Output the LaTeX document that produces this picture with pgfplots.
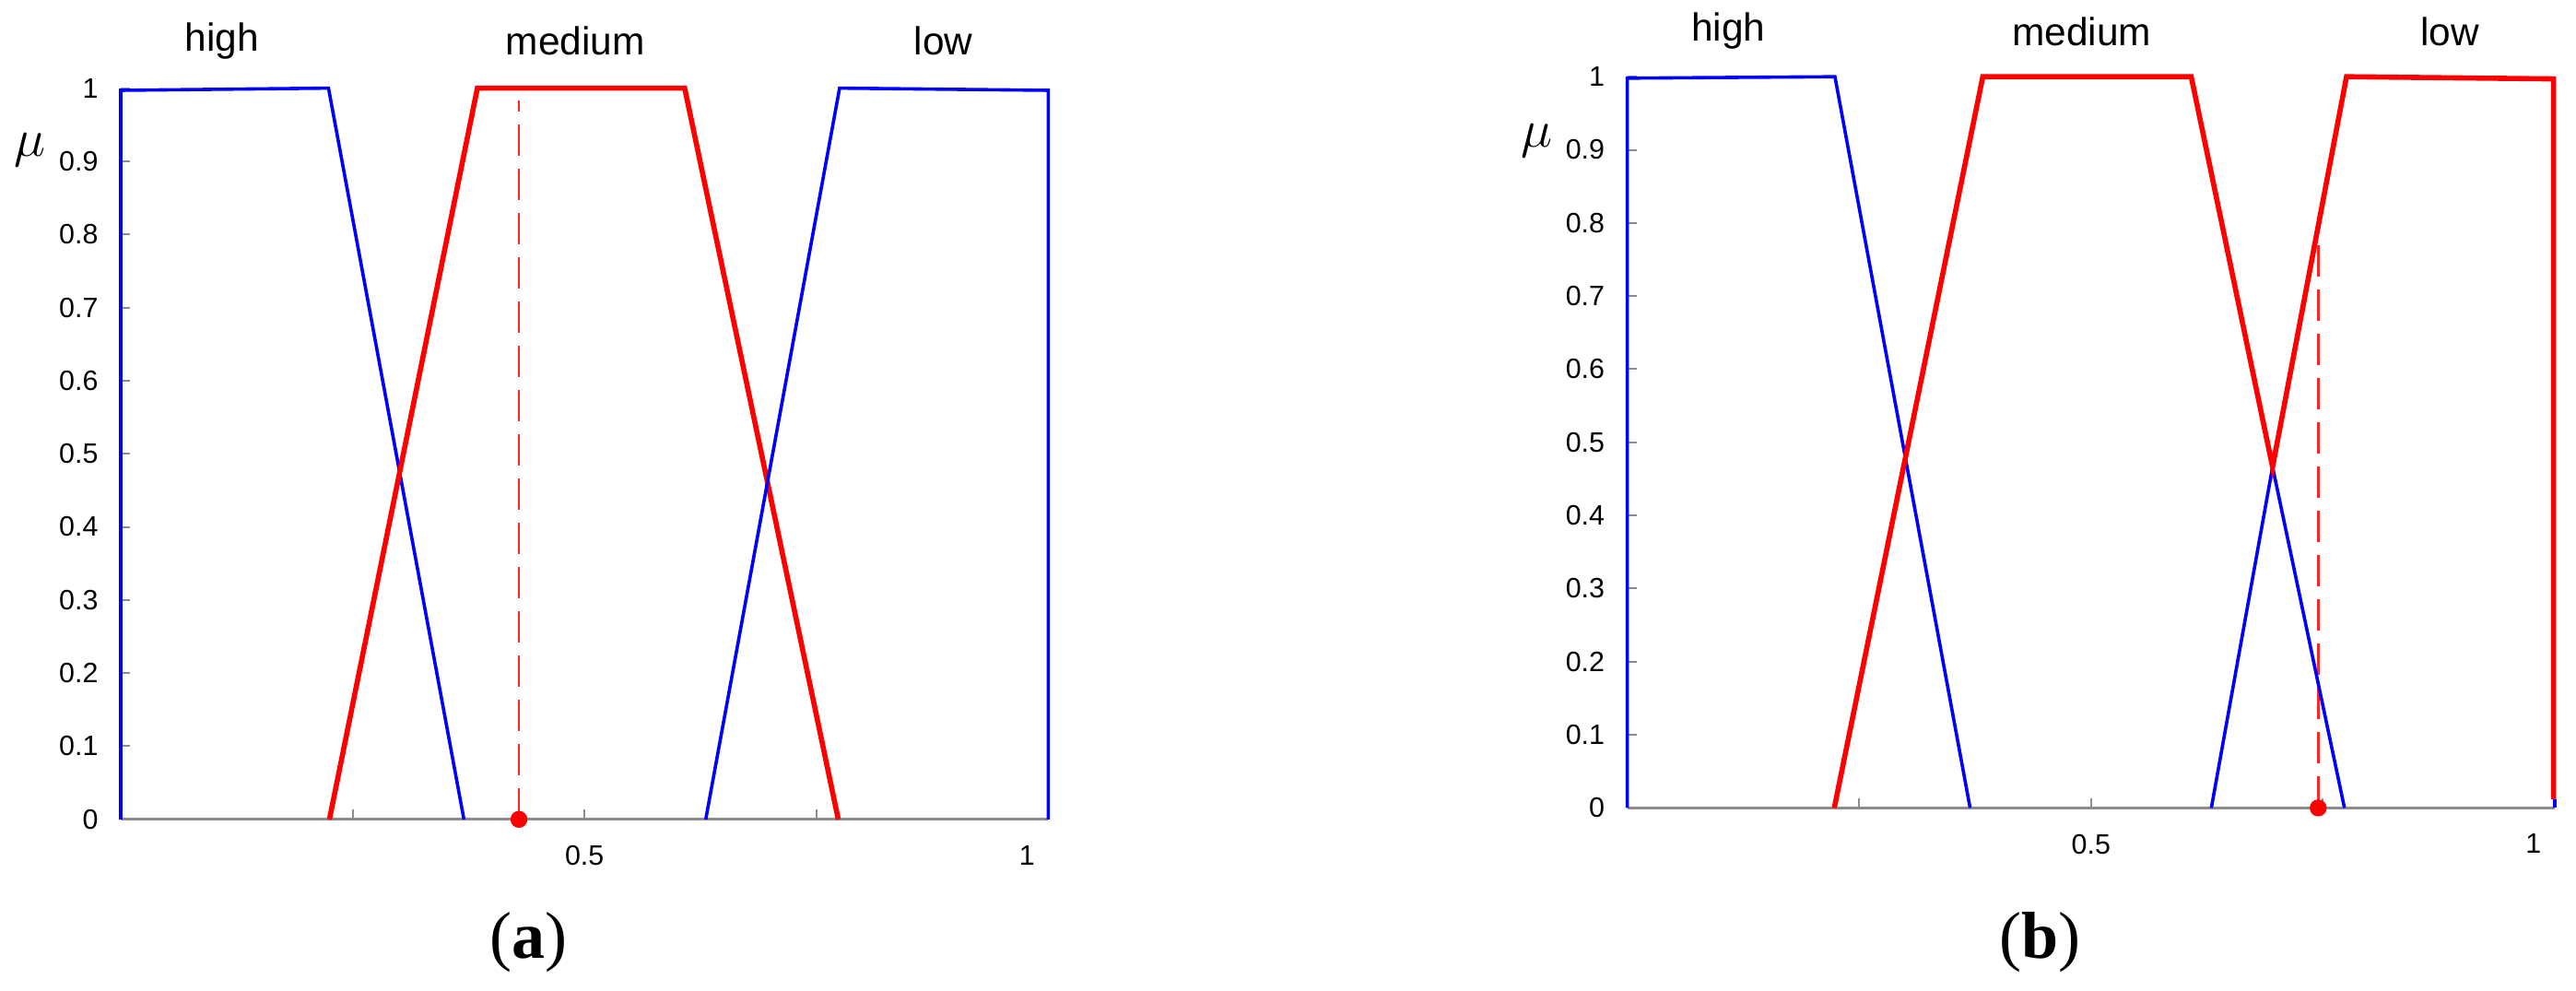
\documentclass[border=0pt]{standalone}
\usepackage{pgfplots}
\pgfplotsset{compat=1.18}
\usepackage{fontspec}
\setmainfont{Liberation Sans}
\newfontfamily\capfont{Liberation Serif}
\definecolor{mfblue}{RGB}{0,0,255}
\definecolor{mfred}{RGB}{255,0,0}
\definecolor{axgray}{RGB}{140,140,140}
\pgfplotsset{
  mf/.style={
    scale only axis, width=251.6pt, height=198.3pt,
    xmin=0, xmax=1, ymin=0, ymax=1,
    clip=false,
    axis x line=bottom, axis y line=left,
    axis line style={-, draw=axgray, line width=0.8pt},
    tick align=inside, major tick length=2.6pt,
    tick style={draw=axgray, line width=0.5pt},
    xtick={0.25,0.5,0.75}, xticklabels={,0.5,},
    extra x ticks={0.977}, extra x tick labels={1},
    extra x tick style={major tick length=0pt},
    ytick={0,0.1,0.2,0.3,0.4,0.5,0.6,0.7,0.8,0.9,1},
    yticklabels={0,0.1,0.2,0.3,0.4,0.5,0.6,0.7,0.8,0.9,1},
    /pgf/number format/assume math mode=true,
    tick label style={font=\fontsize{7.6}{9}\selectfont, text=black},
    yticklabel style={xshift=-2.6pt},
    xticklabel style={yshift=-3.6pt},
  },
  bl/.style={draw=mfblue, line width=0.9pt, mark=none, line join=miter},
  rl/.style={draw=mfred, line width=1.4pt, mark=none, line join=miter},
  dl/.style={draw=mfred!85!white, line width=0.7pt, dash pattern=on 8.5pt off 3.5pt, mark=none},
  dot/.style={only marks, mark=*, mark size=2.1pt, color=mfred},
}
\newcommand{\wfont}{\fontsize{10.6}{12}\selectfont}
\begin{document}
\begin{tikzpicture}
\useasboundingbox (0,0) rectangle (698.75pt,268.5pt);
% ---------------- (a)
\begin{axis}[mf, at={(32.75pt,46.3pt)}, anchor=south west]
\addplot[dl] coordinates {(0.4293,0) (0.4293,0.983)};
\addplot[bl] coordinates {(0,0) (0,0.997) (0.224,1) (0.370,0)};
\addplot[rl] coordinates {(0.225,0) (0.3845,1) (0.608,1) (0.7736,0)};
\addplot[bl] coordinates {(0.6307,0) (0.775,1) (1.0,0.997) (1.0,0)};
\addplot[dot] coordinates {(0.4293,0)};
\node[font=\wfont] at (axis cs:0.109,1.064) {high};
\node[font=\wfont] at (axis cs:0.490,1.064) {medium};
\node[font=\wfont] at (axis cs:0.887,1.064) {low};
\node[font=\fontsize{15}{17}\selectfont] at (axis cs:-0.098,0.915) {$\mu$};
\node[font=\capfont\fontsize{18}{20}\selectfont] at (axis cs:0.44,-0.168) {(\textbf{a})};
\end{axis}
% ---------------- (b)
\begin{axis}[mf, at={(441.4pt,49.4pt)}, anchor=south west]
\addplot[dl] coordinates {(0.7449,0) (0.7449,0.788)};
\addplot[bl] coordinates {(0,0) (0,0.998) (0.2239,1) (0.3696,0)};
\addplot[bl] coordinates {(0.6297,0) (0.6957,0.4663) (0.7732,0)};
\addplot[bl] coordinates {(1.0,0) (1.0,0.012)};
\addplot[rl] coordinates {(0.2232,0) (0.3833,1) (0.608,1) (0.6957,0.4663) (0.7754,1) (0.9986,0.997) (0.9986,0.012)};
\addplot[dot] coordinates {(0.7449,0)};
\node[font=\wfont] at (axis cs:0.109,1.062) {high};
\node[font=\wfont] at (axis cs:0.490,1.062) {medium};
\node[font=\wfont] at (axis cs:0.887,1.062) {low};
\node[font=\fontsize{15}{17}\selectfont] at (axis cs:-0.098,0.913) {$\mu$};
\node[font=\capfont\fontsize{18}{20}\selectfont] at (axis cs:0.445,-0.184) {(\textbf{b})};
\end{axis}
\end{tikzpicture}
\end{document}
